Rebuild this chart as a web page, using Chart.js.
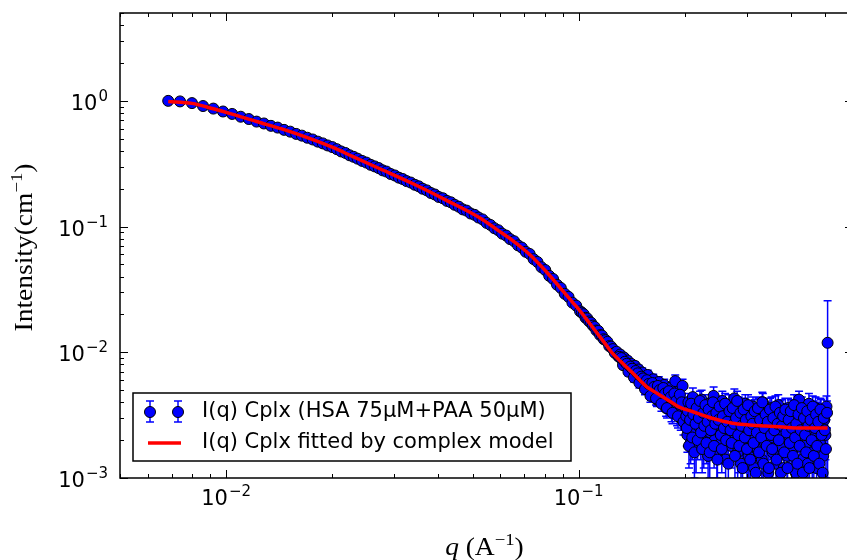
<!DOCTYPE html>
<html>
<head>
<meta charset="utf-8">
<script src="https://cdn.jsdelivr.net/npm/chart.js@4.4.1/dist/chart.umd.min.js"></script>
<style>
  html, body { margin: 0; padding: 0; background: #fff; overflow: hidden; }
  #wrap { width: 860px; height: 560px; }
</style>
</head>
<body>
<div id="wrap"><canvas id="saxsChart" width="860" height="560"></canvas></div>
<script>
// measured I(q), low q (Guinier part)
const qLow = [0.00685, 0.0074, 0.0080, 0.0086, 0.0092, 0.0098, 0.0104, 0.0110, 0.0116, 0.0122,
  0.0128, 0.0134, 0.0140, 0.0146, 0.0152, 0.0158, 0.0164, 0.0170, 0.0176, 0.0182,
  0.0188, 0.0194, 0.0200];
const iLow = [1.00, 0.99, 0.96, 0.91, 0.868, 0.823, 0.787, 0.748, 0.717, 0.684,
  0.661, 0.633, 0.613, 0.588, 0.569, 0.546, 0.529, 0.509, 0.493, 0.474,
  0.459, 0.442, 0.429];
const errLow = [0.012, 0.011, 0.011, 0.010, 0.010, 0.009, 0.009, 0.008, 0.008, 0.008,
  0.007, 0.007, 0.007, 0.006, 0.006, 0.006, 0.006, 0.005, 0.005, 0.005,
  0.005, 0.005, 0.004];

// intermediate q
const qMid = [0.0206, 0.0212, 0.0218, 0.0224, 0.0230, 0.0236, 0.0243, 0.0250, 0.0257, 0.0264,
  0.0271, 0.0278, 0.0285, 0.0293, 0.0301, 0.0309, 0.0317, 0.0325, 0.0334, 0.0343,
  0.0352, 0.0361, 0.0371, 0.0381, 0.0391, 0.0401, 0.0412, 0.0423, 0.0434, 0.0445,
  0.0457, 0.0469, 0.0481, 0.0494, 0.0507, 0.0520, 0.0534, 0.0548, 0.0562, 0.0577,
  0.0592, 0.0607, 0.0623, 0.0639, 0.0656, 0.0673, 0.0690, 0.0708, 0.0726, 0.0745,
  0.0764, 0.0784, 0.0804, 0.0825, 0.0846, 0.0868, 0.0890, 0.0913, 0.0936, 0.0960,
  0.0984, 0.1009];
const iMid = [0.413, 0.396, 0.385, 0.369, 0.359, 0.347, 0.333, 0.323, 0.310, 0.301,
  0.292, 0.280, 0.274, 0.262, 0.255, 0.245, 0.239, 0.230, 0.224, 0.215,
  0.209, 0.200, 0.194, 0.185, 0.180, 0.172, 0.168, 0.160, 0.156, 0.149,
  0.144, 0.137, 0.134, 0.127, 0.124, 0.118, 0.114, 0.107, 0.103, 0.0970,
  0.0935, 0.0878, 0.0848, 0.0795, 0.0765, 0.0709, 0.0681, 0.0630, 0.0606, 0.0551,
  0.0523, 0.0475, 0.0451, 0.0406, 0.0383, 0.0345, 0.0325, 0.0292, 0.0276, 0.0248,
  0.0235, 0.0212];
const errMid = [0.0042, 0.0040, 0.0039, 0.0037, 0.0036, 0.0035, 0.0034, 0.0033, 0.0031, 0.0030,
  0.0029, 0.0028, 0.0027, 0.0026, 0.0025, 0.0024, 0.0024, 0.0023, 0.0022, 0.0021,
  0.0021, 0.0020, 0.0019, 0.0018, 0.0018, 0.0017, 0.0017, 0.0016, 0.0015, 0.0015,
  0.0014, 0.0014, 0.0013, 0.0013, 0.0012, 0.0012, 0.0011, 0.0011, 0.0010, 0.0010,
  0.0010, 0.0009, 0.0009, 0.0009, 0.0008, 0.0008, 0.0008, 0.0007, 0.0007, 0.0007,
  0.0007, 0.0006, 0.0006, 0.0006, 0.0006, 0.0006, 0.0005, 0.0005, 0.0005, 0.0005,
  0.0005, 0.0005];

// knee region
const qKnee = [0.1021, 0.1033, 0.1046, 0.1058, 0.1071, 0.1084, 0.1097, 0.1110, 0.1123, 0.1137,
  0.1150, 0.1164, 0.1178, 0.1192, 0.1207, 0.1221, 0.1236, 0.1251, 0.1266, 0.1281,
  0.1296, 0.1312, 0.1328, 0.1344, 0.1360, 0.1376, 0.1393, 0.1409, 0.1426, 0.1444,
  0.1461, 0.1479, 0.1496, 0.1514, 0.1533, 0.1551, 0.1570, 0.1589, 0.1608, 0.1627,
  0.1647, 0.1667, 0.1687, 0.1707, 0.1728, 0.1748, 0.1770, 0.1791, 0.1813, 0.1834,
  0.1857, 0.1879, 0.1902, 0.1925, 0.1948, 0.1971, 0.1995];
const iKnee = [0.0207, 0.0201, 0.0188, 0.0186, 0.0176, 0.0172, 0.0163, 0.0159, 0.0149, 0.0148,
  0.0137, 0.0136, 0.0127, 0.0125, 0.0121, 0.0112, 0.0111, 0.0106, 0.0099, 0.0101,
  0.0093, 0.0096, 0.0087, 0.0091, 0.0082, 0.0086, 0.0076, 0.0081, 0.0071, 0.0078,
  0.0066, 0.0073, 0.0058, 0.0069, 0.0060, 0.0052, 0.0066, 0.0055, 0.0047, 0.0061,
  0.0051, 0.0042, 0.0058, 0.0049, 0.0040, 0.0055, 0.0036, 0.0047, 0.0052, 0.0034,
  0.0045, 0.0059, 0.0032, 0.0043, 0.0030, 0.0054, 0.0038];
const errKnee = [0.0005, 0.0005, 0.0005, 0.0005, 0.0005, 0.0005, 0.0005, 0.0005, 0.0005, 0.0005,
  0.0005, 0.0005, 0.0005, 0.0005, 0.0005, 0.0005, 0.0005, 0.0005, 0.0005, 0.0006,
  0.0005, 0.0006, 0.0005, 0.0006, 0.0005, 0.0006, 0.0005, 0.0006, 0.0005, 0.0006,
  0.0005, 0.0006, 0.0005, 0.0006, 0.0006, 0.0005, 0.0006, 0.0006, 0.0005, 0.0006,
  0.0006, 0.0005, 0.0006, 0.0006, 0.0006, 0.0006, 0.0005, 0.0006, 0.0006, 0.0006,
  0.0006, 0.0007, 0.0006, 0.0006, 0.0006, 0.0007, 0.0006];

// knee region, second detector frame
const qKnee2 = [0.1304, 0.1320, 0.1336, 0.1352, 0.1368, 0.1384, 0.1401, 0.1418, 0.1435, 0.1452,
  0.1470, 0.1487, 0.1505, 0.1524, 0.1542, 0.1561, 0.1580, 0.1598, 0.1618, 0.1637,
  0.1657, 0.1677, 0.1697, 0.1717, 0.1738, 0.1759, 0.1780, 0.1802, 0.1823, 0.1846,
  0.1868, 0.1891, 0.1913, 0.1937, 0.1960, 0.1983];
const iKnee2 = [0.0092, 0.0090, 0.0079, 0.0084, 0.0081, 0.0070, 0.0077, 0.0074, 0.0063, 0.0071,
  0.0068, 0.0057, 0.0064, 0.0062, 0.0051, 0.0060, 0.0056, 0.0045, 0.0057, 0.0053,
  0.0043, 0.0054, 0.0050, 0.0039, 0.0052, 0.0047, 0.0036, 0.0049, 0.0044, 0.0033,
  0.0047, 0.0041, 0.0031, 0.0046, 0.0040, 0.0028];
const errKnee2 = [0.0005, 0.0005, 0.0005, 0.0005, 0.0005, 0.0005, 0.0006, 0.0005, 0.0005, 0.0006,
  0.0005, 0.0005, 0.0006, 0.0006, 0.0005, 0.0006, 0.0006, 0.0005, 0.0006, 0.0006,
  0.0005, 0.0006, 0.0006, 0.0005, 0.0006, 0.0006, 0.0006, 0.0006, 0.0006, 0.0006,
  0.0006, 0.0006, 0.0006, 0.0007, 0.0006, 0.0006];

// background plateau
const qHigh = [0.2019, 0.2034, 0.2048, 0.2063, 0.2078, 0.2093, 0.2108, 0.2123, 0.2138, 0.2153,
  0.2169, 0.2184, 0.2200, 0.2216, 0.2232, 0.2248, 0.2264, 0.2280, 0.2296, 0.2313,
  0.2329, 0.2346, 0.2363, 0.2380, 0.2397, 0.2414, 0.2431, 0.2449, 0.2466, 0.2484,
  0.2502, 0.2520, 0.2538, 0.2556, 0.2574, 0.2593, 0.2611, 0.2630, 0.2649, 0.2668,
  0.2687, 0.2706, 0.2726, 0.2745, 0.2765, 0.2785, 0.2805, 0.2825, 0.2845, 0.2866,
  0.2886, 0.2907, 0.2928, 0.2949, 0.2970, 0.2991, 0.3013, 0.3034, 0.3056, 0.3078,
  0.3100, 0.3123, 0.3145, 0.3168, 0.3190, 0.3213, 0.3236, 0.3260, 0.3283, 0.3307,
  0.3330, 0.3354, 0.3378, 0.3403, 0.3427, 0.3452, 0.3477, 0.3502, 0.3527, 0.3552,
  0.3578, 0.3603, 0.3629, 0.3655, 0.3682, 0.3708, 0.3735, 0.3762, 0.3789, 0.3816,
  0.3843, 0.3871, 0.3899, 0.3927, 0.3955, 0.3983, 0.4012, 0.4041, 0.4070, 0.4099,
  0.4128, 0.4158, 0.4188, 0.4218, 0.4248, 0.4279, 0.4310, 0.4341, 0.4372, 0.4403,
  0.4435, 0.4467, 0.4499, 0.4531, 0.4564, 0.4597, 0.4630, 0.4663, 0.4697, 0.4731,
  0.4765, 0.4799, 0.4834, 0.4868, 0.4904, 0.4939, 0.4975, 0.5010, 0.5046, 0.5083];
const iHigh = [0.0031, 0.0022, 0.0040, 0.0027, 0.0019, 0.0035, 0.0044, 0.0024, 0.0029, 0.0017,
  0.0038, 0.0026, 0.0033, 0.0021, 0.0042, 0.0028, 0.0018, 0.0036, 0.0025, 0.0031,
  0.0015, 0.0039, 0.0023, 0.0034, 0.0027, 0.0045, 0.0020, 0.0030, 0.0016, 0.0037,
  0.0026, 0.0032, 0.0019, 0.0041, 0.0024, 0.0029, 0.0014, 0.0035, 0.0022, 0.0038,
  0.0027, 0.0018, 0.0033, 0.0025, 0.0043, 0.0021, 0.0030, 0.0016, 0.0036, 0.0024,
  0.0013, 0.0032, 0.0027, 0.0019, 0.0039, 0.0023, 0.0029, 0.0015, 0.0034, 0.0026,
  0.0020, 0.0037, 0.0012, 0.0031, 0.0025, 0.0017, 0.0035, 0.0022, 0.0028, 0.0014,
  0.0040, 0.0024, 0.0019, 0.0033, 0.0027, 0.0011, 0.0030, 0.0021, 0.0036, 0.0016,
  0.0026, 0.0032, 0.0013, 0.0023, 0.0038, 0.0028, 0.0018, 0.0034, 0.0022, 0.0012,
  0.0031, 0.0025, 0.0015, 0.0036, 0.0020, 0.0029, 0.0019, 0.0017, 0.0033, 0.0024,
  0.0011, 0.0027, 0.0037, 0.0042, 0.0031, 0.0022, 0.0014, 0.0035, 0.0026, 0.0018,
  0.0030, 0.0013, 0.0039, 0.0023, 0.0028, 0.0016, 0.0033, 0.0021, 0.0036, 0.0012,
  0.0026, 0.0031, 0.0019, 0.0034, 0.0024, 0.0015, 0.0029, 0.0022, 0.0037, 0.0119];
const errHigh = [0.0007, 0.0006, 0.0007, 0.0007, 0.0006, 0.0007, 0.0008, 0.0006, 0.0007, 0.0006,
  0.0007, 0.0007, 0.0006, 0.0007, 0.0008, 0.0007, 0.0006, 0.0007, 0.0007, 0.0007,
  0.0006, 0.0007, 0.0007, 0.0007, 0.0007, 0.0008, 0.0006, 0.0007, 0.0006, 0.0007,
  0.0007, 0.0007, 0.0006, 0.0008, 0.0007, 0.0007, 0.0006, 0.0007, 0.0007, 0.0008,
  0.0007, 0.0006, 0.0007, 0.0007, 0.0008, 0.0007, 0.0007, 0.0006, 0.0008, 0.0007,
  0.0006, 0.0007, 0.0007, 0.0008, 0.0007, 0.0007, 0.0008, 0.0006, 0.0007, 0.0008,
  0.0007, 0.0007, 0.0007, 0.0008, 0.0007, 0.0007, 0.0008, 0.0006, 0.0007, 0.0008,
  0.0007, 0.0007, 0.0008, 0.0007, 0.0007, 0.0008, 0.0007, 0.0007, 0.0008, 0.0008,
  0.0007, 0.0007, 0.0008, 0.0007, 0.0008, 0.0007, 0.0007, 0.0008, 0.0008, 0.0007,
  0.0008, 0.0007, 0.0008, 0.0007, 0.0008, 0.0008, 0.0007, 0.0008, 0.0008, 0.0007,
  0.0008, 0.0007, 0.0008, 0.0007, 0.0008, 0.0008, 0.0008, 0.0007, 0.0008, 0.0008,
  0.0007, 0.0008, 0.0008, 0.0008, 0.0007, 0.0008, 0.0008, 0.0008, 0.0008, 0.0007,
  0.0008, 0.0008, 0.0008, 0.0008, 0.0008, 0.0009, 0.0008, 0.0008, 0.0008, 0.0138];

// background plateau, second detector frame
const qHigh2 = [0.2026, 0.2041, 0.2055, 0.2070, 0.2085, 0.2100, 0.2115, 0.2130, 0.2145, 0.2161,
  0.2176, 0.2192, 0.2208, 0.2224, 0.2240, 0.2256, 0.2272, 0.2288, 0.2304, 0.2321,
  0.2337, 0.2354, 0.2371, 0.2388, 0.2405, 0.2422, 0.2440, 0.2457, 0.2475, 0.2493,
  0.2511, 0.2529, 0.2547, 0.2565, 0.2583, 0.2602, 0.2620, 0.2639, 0.2658, 0.2677,
  0.2696, 0.2716, 0.2735, 0.2755, 0.2775, 0.2795, 0.2815, 0.2835, 0.2855, 0.2876,
  0.2896, 0.2917, 0.2938, 0.2959, 0.2980, 0.3002, 0.3023, 0.3045, 0.3067, 0.3089,
  0.3111, 0.3134, 0.3156, 0.3179, 0.3201, 0.3224, 0.3248, 0.3271, 0.3295, 0.3318,
  0.3342, 0.3366, 0.3390, 0.3415, 0.3439, 0.3464, 0.3489, 0.3514, 0.3539, 0.3565,
  0.3590, 0.3616, 0.3642, 0.3668, 0.3695, 0.3721, 0.3748, 0.3775, 0.3802, 0.3829,
  0.3857, 0.3885, 0.3913, 0.3941, 0.3969, 0.3997, 0.4026, 0.4055, 0.4084, 0.4113,
  0.4143, 0.4173, 0.4203, 0.4233, 0.4263, 0.4294, 0.4325, 0.4356, 0.4387, 0.4419,
  0.4451, 0.4483, 0.4515, 0.4547, 0.4580, 0.4613, 0.4646, 0.4680, 0.4714, 0.4748,
  0.4782, 0.4816, 0.4851, 0.4886, 0.4921, 0.4957, 0.4992, 0.5028, 0.5064];
const iHigh2 = [0.0025, 0.0034, 0.0018, 0.0029, 0.0039, 0.0021, 0.0032, 0.0016, 0.0027, 0.0036,
  0.0020, 0.0030, 0.0041, 0.0023, 0.0017, 0.0033, 0.0026, 0.0038, 0.0019, 0.0028,
  0.0035, 0.0016, 0.0024, 0.0031, 0.0040, 0.0018, 0.0027, 0.0033, 0.0014, 0.0029,
  0.0037, 0.0022, 0.0017, 0.0031, 0.0025, 0.0039, 0.0020, 0.0028, 0.0013, 0.0034,
  0.0024, 0.0019, 0.0036, 0.0027, 0.0015, 0.0030, 0.0041, 0.0022, 0.0018, 0.0033,
  0.0026, 0.0012, 0.0035, 0.0021, 0.0029, 0.0017, 0.0038, 0.0024, 0.0014, 0.0031,
  0.0027, 0.0019, 0.0034, 0.0011, 0.0023, 0.0036, 0.0016, 0.0029, 0.0021, 0.0040,
  0.0013, 0.0025, 0.0032, 0.0018, 0.0028, 0.0012, 0.0035, 0.0022, 0.0017, 0.0030,
  0.0024, 0.0037, 0.0014, 0.0027, 0.0020, 0.0033, 0.0011, 0.0026, 0.0031, 0.0016,
  0.0035, 0.0023, 0.0012, 0.0029, 0.0019, 0.0034, 0.0025, 0.0015, 0.0038, 0.0021,
  0.0027, 0.0013, 0.0032, 0.0018, 0.0024, 0.0036, 0.0011, 0.0030, 0.0022, 0.0016,
  0.0034, 0.0026, 0.0012, 0.0029, 0.0020, 0.0037, 0.0015, 0.0025, 0.0032, 0.0018,
  0.0028, 0.0013, 0.0035, 0.0022, 0.0011, 0.0030, 0.0024, 0.0017, 0.0033];
const errHigh2 = [0.0007, 0.0008, 0.0006, 0.0007, 0.0008, 0.0007, 0.0007, 0.0006, 0.0007, 0.0008,
  0.0006, 0.0007, 0.0008, 0.0007, 0.0006, 0.0007, 0.0007, 0.0008, 0.0006, 0.0007,
  0.0008, 0.0006, 0.0007, 0.0007, 0.0008, 0.0006, 0.0007, 0.0008, 0.0006, 0.0007,
  0.0008, 0.0007, 0.0006, 0.0007, 0.0007, 0.0008, 0.0007, 0.0007, 0.0006, 0.0008,
  0.0007, 0.0007, 0.0008, 0.0007, 0.0006, 0.0007, 0.0008, 0.0007, 0.0007, 0.0008,
  0.0007, 0.0006, 0.0008, 0.0007, 0.0007, 0.0007, 0.0008, 0.0007, 0.0006, 0.0008,
  0.0007, 0.0007, 0.0008, 0.0006, 0.0007, 0.0008, 0.0007, 0.0007, 0.0007, 0.0008,
  0.0006, 0.0007, 0.0008, 0.0007, 0.0008, 0.0006, 0.0008, 0.0007, 0.0007, 0.0008,
  0.0007, 0.0008, 0.0006, 0.0008, 0.0007, 0.0008, 0.0006, 0.0007, 0.0008, 0.0007,
  0.0008, 0.0007, 0.0006, 0.0008, 0.0007, 0.0008, 0.0008, 0.0007, 0.0008, 0.0007,
  0.0008, 0.0006, 0.0008, 0.0007, 0.0008, 0.0008, 0.0006, 0.0008, 0.0007, 0.0007,
  0.0008, 0.0008, 0.0006, 0.0008, 0.0007, 0.0008, 0.0007, 0.0008, 0.0008, 0.0007,
  0.0008, 0.0007, 0.0008, 0.0008, 0.0006, 0.0008, 0.0008, 0.0007, 0.0008];

// complex model fit
const fitQ = [0.00685, 0.0080, 0.0092, 0.0104, 0.0122, 0.0146, 0.0170, 0.0200, 0.0229, 0.0271,
  0.0339, 0.0423, 0.0525, 0.0592, 0.0650, 0.0726, 0.0811, 0.0890, 0.0960, 0.1007,
  0.1071, 0.1137, 0.1207, 0.1248, 0.1328, 0.1409, 0.1496, 0.1560, 0.1647, 0.1748,
  0.1834, 0.1930, 0.2100, 0.2390, 0.2730, 0.3000, 0.3390, 0.3800, 0.4200, 0.4600,
  0.5083];
const fitI = [0.990, 0.955, 0.865, 0.785, 0.685, 0.590, 0.510, 0.428, 0.360, 0.291,
  0.219, 0.161, 0.117, 0.0928, 0.0774, 0.0600, 0.0435, 0.0321, 0.0251, 0.0215,
  0.01716, 0.01379, 0.01107, 0.0098, 0.00826, 0.00702, 0.00595, 0.0053, 0.00482, 0.00435,
  0.0040, 0.00366, 0.00338, 0.00299, 0.00273, 0.00265, 0.00259, 0.00254, 0.0025, 0.0025,
  0.0025];

const xTicks = [0.01, 0.1];
const xTickExps = ['−2', '−1'];
const yTicks = [0.001, 0.01, 0.1, 1];
const yTickExps = ['−3', '−2', '−1', '0'];
const seriesLabels = ['I(q) Cplx (HSA 75µM+PAA 50µM)', 'I(q) Cplx fitted by complex model'];

const qData = [...qLow, ...qMid, ...qKnee, ...qKnee2, ...qHigh, ...qHigh2];
const iData = [...iLow, ...iMid, ...iKnee, ...iKnee2, ...iHigh, ...iHigh2];
const errData = [...errLow, ...errMid, ...errKnee, ...errKnee2, ...errHigh, ...errHigh2];

const measured = qData.map((q, i) => ({ x: q, y: iData[i] }));
const fitted = fitQ.map((q, i) => ({ x: q, y: fitI[i] }));

const SANS = '"DejaVu Sans", sans-serif';
const SERIF = '"Liberation Serif", "DejaVu Serif", serif';

// vertical error bars under the markers
const errorBars = {
  id: 'errorBars',
  beforeDatasetDraw(chart, args) {
    if (args.index !== 1) return;
    const { ctx, chartArea: a, scales: { x, y } } = chart;
    ctx.save();
    ctx.beginPath();
    ctx.rect(a.left, a.top, a.right - a.left, a.bottom - a.top);
    ctx.clip();
    ctx.strokeStyle = '#0000ff';
    ctx.lineWidth = 1.5;
    ctx.beginPath();
    qData.forEach((q, i) => {
      const px = x.getPixelForValue(q);
      const lo = iData[i] - errData[i];
      const hi = iData[i] + errData[i];
      const pyHi = y.getPixelForValue(hi);
      const pyLo = lo > 0 ? y.getPixelForValue(lo) : a.bottom + 20;
      ctx.moveTo(px, pyHi); ctx.lineTo(px, pyLo);
      ctx.moveTo(px - 4, pyHi); ctx.lineTo(px + 4, pyHi);
      if (lo > 0) { ctx.moveTo(px - 4, pyLo); ctx.lineTo(px + 4, pyLo); }
    });
    ctx.stroke();
    ctx.restore();
  }
};

// "10" with a raised exponent, like matplotlib mathtext
function drawPower(ctx, exp, x, y, align) {
  ctx.font = '21px ' + SANS;
  const wb = ctx.measureText('10').width;
  ctx.font = '15px ' + SANS;
  const ws = ctx.measureText(exp).width;
  const w = wb + 1 + ws;
  const x0 = align === 'center' ? x - w / 2 : x - w;
  ctx.font = '21px ' + SANS;
  ctx.fillText('10', x0, y);
  ctx.font = '15px ' + SANS;
  ctx.fillText(exp, x0 + wb + 1, y - 9);
}

// matplotlib style box with inward ticks on all four sides, and tick labels
const axesFrame = {
  id: 'axesFrame',
  afterDatasetsDraw(chart) {
    const { ctx, chartArea: a, scales: { x, y } } = chart;
    ctx.save();
    ctx.strokeStyle = '#000';
    ctx.lineWidth = 1;
    ctx.beginPath();
    for (let d = -4; d <= 1; d++) {
      for (let k = 1; k <= 9; k++) {
        const v = k * Math.pow(10, d);
        const len = k === 1 ? 8 : 4;
        if (v >= x.min && v <= x.max) {
          const px = Math.round(x.getPixelForValue(v)) + 0.5;
          ctx.moveTo(px, a.bottom); ctx.lineTo(px, a.bottom - len);
          ctx.moveTo(px, a.top); ctx.lineTo(px, a.top + len);
        }
        if (v >= y.min && v <= y.max) {
          const py = Math.round(y.getPixelForValue(v)) + 0.5;
          ctx.moveTo(a.left, py); ctx.lineTo(a.left + len, py);
          ctx.moveTo(a.right, py); ctx.lineTo(a.right - len, py);
        }
      }
    }
    ctx.stroke();
    ctx.lineWidth = 1.5;
    ctx.strokeRect(a.left, a.top, a.right - a.left, a.bottom - a.top);

    ctx.fillStyle = '#000';
    ctx.textBaseline = 'alphabetic';
    ctx.textAlign = 'left';
    xTicks.forEach((v, i) => drawPower(ctx, xTickExps[i], x.getPixelForValue(v), a.bottom + 27, 'center'));
    yTicks.forEach((v, i) => drawPower(ctx, yTickExps[i], a.left - 12, y.getPixelForValue(v) + 9, 'right'));
    ctx.restore();
  }
};

function drawRuns(ctx, runs) {
  let w = 0;
  runs.forEach(r => { ctx.font = r.font; w += ctx.measureText(r.t).width + (r.gap || 0); });
  let cx = -w / 2;
  runs.forEach(r => {
    ctx.font = r.font;
    ctx.fillText(r.t, cx, r.dy || 0);
    cx += ctx.measureText(r.t).width + (r.gap || 0);
  });
}

// axis titles and legend
const titlesLegend = {
  id: 'titlesLegend',
  afterDraw(chart) {
    const { ctx, chartArea: a } = chart;
    ctx.save();
    ctx.fillStyle = '#000';
    ctx.textAlign = 'left';
    ctx.textBaseline = 'alphabetic';

    ctx.save();
    ctx.translate(32, (a.top + a.bottom) / 2 + 2);
    ctx.rotate(-Math.PI / 2);
    ctx.scale(1.1, 1);
    drawRuns(ctx, [
      { t: 'Intensity(cm', font: '25px ' + SERIF },
      { t: '−1', font: '17px ' + SERIF, dy: -10 },
      { t: ')', font: '25px ' + SERIF }
    ]);
    ctx.restore();

    ctx.save();
    ctx.translate((a.left + a.right) / 2 - 2, 555);
    ctx.scale(1.1, 1);
    drawRuns(ctx, [
      { t: 'q', font: 'italic 25px ' + SERIF, gap: 6 },
      { t: '(A', font: '25px ' + SERIF },
      { t: '−1', font: '17px ' + SERIF, dy: -10 },
      { t: ')', font: '25px ' + SERIF }
    ]);
    ctx.restore();

    // legend box
    const bx = 133, by = 393, bw = 438, bh = 68;
    ctx.fillStyle = '#fff';
    ctx.fillRect(bx, by, bw, bh);
    ctx.strokeStyle = '#000';
    ctx.lineWidth = 1.5;
    ctx.strokeRect(bx, by, bw, bh);

    const row1 = by + 19, row2 = by + 50;
    [150, 178].forEach(mx => {
      ctx.strokeStyle = '#0000ff';
      ctx.lineWidth = 1.5;
      ctx.beginPath();
      ctx.moveTo(mx, row1 - 11); ctx.lineTo(mx, row1 + 10);
      ctx.moveTo(mx - 4, row1 - 11); ctx.lineTo(mx + 4, row1 - 11);
      ctx.moveTo(mx - 4, row1 + 10); ctx.lineTo(mx + 4, row1 + 10);
      ctx.stroke();
      ctx.beginPath();
      ctx.arc(mx, row1, 5.5, 0, Math.PI * 2);
      ctx.fillStyle = '#0000ff';
      ctx.fill();
      ctx.strokeStyle = '#000';
      ctx.lineWidth = 1;
      ctx.stroke();
    });
    ctx.strokeStyle = '#ff0000';
    ctx.lineWidth = 3.5;
    ctx.beginPath();
    ctx.moveTo(148, row2); ctx.lineTo(181, row2);
    ctx.stroke();

    ctx.fillStyle = '#000';
    ctx.font = '21px ' + SANS;
    ctx.textBaseline = 'middle';
    ctx.fillText(seriesLabels[0], 202, row1);
    ctx.fillText(seriesLabels[1], 202, row2);
    ctx.restore();
  }
};

new Chart(document.getElementById('saxsChart'), {
  type: 'scatter',
  data: {
    datasets: [
      {
        type: 'line',
        label: seriesLabels[1],
        data: fitted,
        borderColor: '#ff0000',
        borderWidth: 3.5,
        pointRadius: 0,
        fill: false,
        cubicInterpolationMode: 'monotone',
        order: 0,
        clip: 0
      },
      {
        label: seriesLabels[0],
        data: measured,
        backgroundColor: '#0000ff',
        borderColor: '#000000',
        borderWidth: 1,
        pointRadius: 5.5,
        order: 1,
        clip: 0
      }
    ]
  },
  options: {
    responsive: false,
    animation: false,
    layout: { padding: { top: 13, right: 7, bottom: 0, left: 0 } },
    plugins: { legend: { display: false }, tooltip: { enabled: false } },
    scales: {
      x: {
        type: 'logarithmic',
        min: 0.005,
        max: 0.6,
        grid: { display: false, drawTicks: false },
        border: { display: false },
        afterBuildTicks: s => { s.ticks = xTicks.map(v => ({ value: v })); },
        afterFit: s => { s.height = 82; },
        ticks: { display: false }
      },
      y: {
        type: 'logarithmic',
        min: 0.001,
        max: 5,
        grid: { display: false, drawTicks: false },
        border: { display: false },
        afterBuildTicks: s => { s.ticks = yTicks.map(v => ({ value: v })); },
        afterFit: s => { s.width = 120; },
        ticks: { display: false }
      }
    }
  },
  plugins: [errorBars, axesFrame, titlesLegend]
});
</script>
</body>
</html>
